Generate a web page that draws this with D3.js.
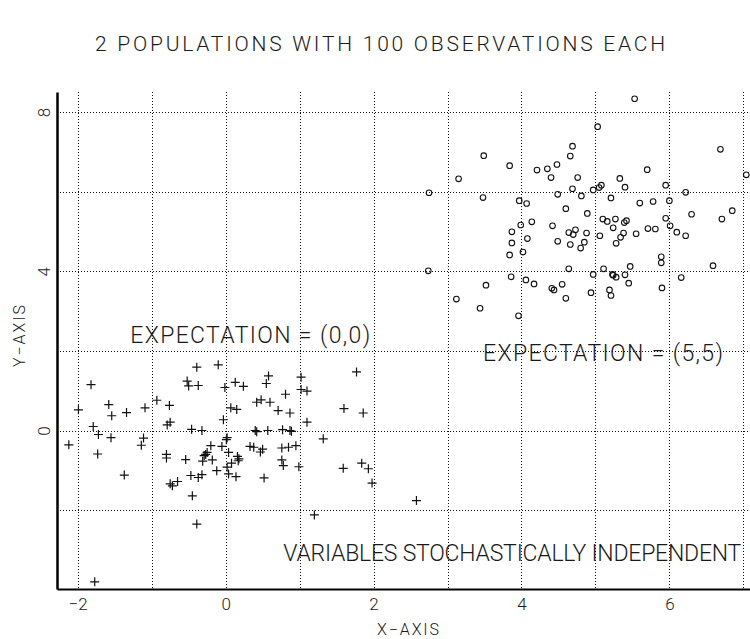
<!DOCTYPE html>
<html>
<head>
<meta charset="utf-8">
<script src="https://cdn.jsdelivr.net/npm/d3@7"></script>
<style>
  html, body { margin: 0; padding: 0; background: #fff; }
  svg { display: block; }
  text { font-family: Roboto, "Liberation Sans", Arial, sans-serif; font-weight: 300; fill: #1a1a1a; }
</style>
</head>
<body>
<svg id="chart" width="750" height="639"></svg>
<script>
// ---------- data ----------
const title = "2 POPULATIONS WITH 100 OBSERVATIONS EACH";
const xAxisTitle = "X\u2212AXIS";
const yAxisTitle = "Y\u2212AXIS";
const xTickLabels = [-2, 0, 2, 4, 6];
const yTickLabels = [0, 4, 8];
const xGrid = [-2, -1, 0, 1, 2, 3, 4, 5, 6, 7];
const yGrid = [-2, 0, 2, 4, 6, 8];
const annotations = ["EXPECTATION = (0,0)", "EXPECTATION = (5,5)", "VARIABLES STOCHASTICALLY INDEPENDENT"];

// population 1 (plus markers), expectation (0,0)
const crossX = [-1.82,-1.99,-1.58,-1.54,-1.34,-1.09,-0.93,-0.76,-1.79,-1.72,-1.55,-2.12,-1.11,-1.14,-1.73,-0.79,-0.75,-0.80,-0.80,-1.37,
  -0.75,-0.72,-0.65,-1.77,-0.39,-0.10,-0.52,-0.50,-0.37,-0.01,0.13,0.24,0.58,0.55,0.81,0.07,0.15,0.42,0.48,0.60,
  0.71,0.87,-0.03,-0.46,-0.32,0.40,0.42,0.57,0.77,0.87,0.89,0.02,-0.20,-0.05,0.33,0.38,0.50,0.76,0.85,0.95,
  -0.25,-0.29,0.04,-0.54,-0.31,-0.18,0.16,0.17,0.08,0.47,0.76,0.78,0.02,-0.12,-0.47,-0.37,-0.32,0.04,0.14,0.52,
  -0.45,-0.39,1.77,1.02,1.02,1.10,1.60,1.86,1.10,1.32,1.59,1.84,1.93,1.98,2.58,1.20,0.99,0.01,-0.27,0.18];
const crossY = [1.15,0.52,0.65,0.37,0.45,0.57,0.76,0.63,0.10,-0.10,-0.18,-0.36,-0.19,-0.37,-0.59,0.14,0.21,-0.60,-0.69,-1.12,
  -1.34,-1.39,-1.28,-3.80,1.59,1.65,1.24,1.12,1.13,1.08,1.21,1.11,1.37,1.18,0.91,0.57,0.53,0.71,0.77,0.71,
  0.50,0.44,0.27,0.03,0.00,0.00,-0.03,0.00,0.02,0.00,-0.02,-0.18,-0.38,-0.40,-0.40,-0.42,-0.47,-0.44,-0.42,-0.38,
  -0.55,-0.63,-0.55,-0.73,-0.77,-0.74,-0.65,-0.76,-0.82,-0.54,-0.74,-0.88,-0.92,-1.01,-1.13,-1.18,-1.11,-1.09,-1.16,-1.19,
  -1.64,-2.35,1.47,1.34,1.03,0.99,0.55,0.44,0.21,-0.21,-0.95,-0.82,-0.96,-1.32,-1.76,-2.12,-0.91,-0.23,-0.60,-0.71];

// population 2 (circle markers), expectation (5,5)
const circleX = [5.53,5.03,6.69,3.49,4.69,4.66,3.84,4.21,4.35,4.48,4.40,4.76,5.70,5.33,7.04,3.15,2.75,3.48,4.69,4.97,
  5.05,5.08,5.40,5.95,6.22,4.49,4.81,5.21,3.97,4.07,5.60,5.78,6.00,4.60,4.89,6.30,6.85,6.71,3.99,4.14,
  4.42,5.10,5.16,5.27,5.24,5.39,5.42,5.95,6.01,5.71,5.81,3.87,4.08,4.64,4.73,4.70,4.88,5.06,5.38,5.34,
  5.55,6.10,6.22,3.87,4.49,4.66,4.85,4.80,5.28,4.02,3.84,5.89,5.89,6.59,2.74,4.64,5.11,5.47,4.97,5.23,
  5.24,5.28,5.40,3.86,4.06,4.17,4.55,3.52,6.16,5.45,4.41,4.44,5.19,4.94,5.21,5.90,4.60,3.12,3.44,3.96];
const circleY = [8.33,7.63,7.06,6.90,7.14,6.89,6.65,6.54,6.57,6.68,6.35,6.35,6.55,6.33,6.42,6.32,5.97,5.85,6.07,6.04,
  6.10,6.16,6.11,6.16,5.98,5.93,5.89,5.84,5.77,5.70,5.71,5.75,5.77,5.57,5.45,5.43,5.52,5.31,5.16,5.24,
  5.14,5.31,5.25,5.31,5.09,5.22,5.27,5.33,5.14,5.07,5.06,4.99,4.82,4.97,5.04,4.92,4.96,4.89,4.96,4.85,
  4.94,4.98,4.89,4.71,4.75,4.67,4.73,4.58,4.70,4.48,4.41,4.36,4.21,4.14,4.01,4.06,4.06,4.12,3.92,3.92,
  3.90,3.85,3.91,3.86,3.78,3.68,3.67,3.65,3.84,3.70,3.57,3.53,3.53,3.46,3.39,3.58,3.32,3.30,3.07,2.88];

// ---------- drawing ----------
const svg = d3.select("#chart");
const plot = { left: 57, right: 750, top: 92, bottom: 589 };
const FONT = 'Roboto, "Liberation Sans", Arial, sans-serif';

const x = d3.scaleLinear().domain([-2.28, 7.09]).range([plot.left, plot.right]);
const y = d3.scaleLinear().domain([-3.98, 8.5]).range([plot.bottom, plot.top]);

// grid
const grid = svg.append("g").attr("stroke", "#111").attr("stroke-width", 1).attr("stroke-dasharray", "1,2");
grid.selectAll("line.v").data(xGrid).join("line")
  .attr("class", "v")
  .attr("x1", d => Math.round(x(d)) + 0.5).attr("x2", d => Math.round(x(d)) + 0.5)
  .attr("y1", plot.top).attr("y2", plot.bottom);
grid.selectAll("line.h").data(yGrid).join("line")
  .attr("class", "h")
  .attr("y1", d => Math.round(y(d)) + 0.5).attr("y2", d => Math.round(y(d)) + 0.5)
  .attr("x1", plot.left).attr("x2", plot.right);

// axes (no tick marks)
const xAxis = d3.axisBottom(x).tickValues(xTickLabels).tickSize(0).tickPadding(9)
  .tickFormat(d => d3.format("d")(d).replace("-", "\u2212"));
const gx = svg.append("g").attr("transform", `translate(0,${plot.bottom})`).call(xAxis);
gx.select(".domain").attr("stroke", "#000").attr("stroke-width", 2.2);
gx.selectAll("text").attr("font-size", 17).attr("fill", "#1a1a1a")
  .style("font-family", FONT).style("font-weight", 300);

const yAxis = d3.axisLeft(y).tickValues(yTickLabels).tickSize(0).tickPadding(0).tickFormat(d3.format("d"));
const gy = svg.append("g").attr("transform", `translate(${plot.left},0)`).call(yAxis);
gy.select(".domain").attr("stroke", "#000").attr("stroke-width", 2.5);
gy.selectAll("text")
  .attr("font-size", 17).attr("fill", "#1a1a1a")
  .attr("text-anchor", "middle")
  .attr("x", 0).attr("y", 0).attr("dy", 0)
  .attr("transform", "translate(-13,0) rotate(-90)")
  .attr("dominant-baseline", "central")
  .style("font-family", FONT).style("font-weight", 300);

// markers
const pts1 = crossX.map((v, i) => ({ x: v, y: crossY[i] }));
const pts2 = circleX.map((v, i) => ({ x: v, y: circleY[i] }));

svg.append("g").attr("stroke", "#111").attr("stroke-width", 1.2).attr("fill", "none")
  .selectAll("path").data(pts1).join("path")
  .attr("d", d => {
    const cx = x(d.x), cy = y(d.y), s = 4.5;
    return `M${cx - s},${cy}H${cx + s}M${cx},${cy - s}V${cy + s}`;
  });

svg.append("g").attr("stroke", "#111").attr("stroke-width", 1.1).attr("fill", "none")
  .selectAll("circle").data(pts2).join("circle")
  .attr("cx", d => x(d.x)).attr("cy", d => y(d.y)).attr("r", 2.8);

// title & axis titles
svg.append("text").attr("x", 380).attr("y", 51).attr("text-anchor", "middle")
  .attr("font-size", 21).attr("textLength", 570).attr("lengthAdjust", "spacing").text(title);

svg.append("text").attr("x", 408).attr("y", 635).attr("text-anchor", "middle")
  .attr("font-size", 16).attr("textLength", 62).attr("lengthAdjust", "spacing").text(xAxisTitle);

svg.append("text").attr("transform", "translate(25,336) rotate(-90)").attr("text-anchor", "middle")
  .attr("font-size", 16).attr("textLength", 62).attr("lengthAdjust", "spacing").text(yAxisTitle);

// annotations (anchored in data space)
const annPos = [
  { x: -1.29, y: 2.19, w: 240 },
  { x: 3.48, y: 1.74, w: 240 },
  { x: 0.78, y: -3.27, w: 458 }
];
svg.append("g").selectAll("text").data(annotations).join("text")
  .attr("x", (d, i) => x(annPos[i].x)).attr("y", (d, i) => y(annPos[i].y))
  .attr("font-size", 23)
  .attr("textLength", (d, i) => annPos[i].w).attr("lengthAdjust", "spacing")
  .text(d => d);
</script>
</body>
</html>
